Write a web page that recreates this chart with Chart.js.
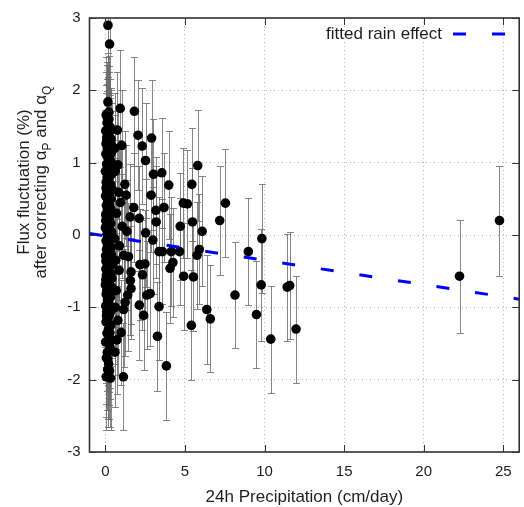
<!DOCTYPE html>
<html>
<head>
<meta charset="utf-8">
<script src="https://cdn.jsdelivr.net/npm/chart.js@4.4.1/dist/chart.umd.min.js"></script>
<style>
  html, body { margin: 0; padding: 0; background: #fff; }
  #wrap { width: 524px; height: 507px; }
</style>
</head>
<body>
<div id="wrap"><canvas id="rainChart" width="524" height="507"></canvas></div>
<script>
/* ---------------------------
   Data
--------------------------- */
const precipX = [
  // dense column at ~0 cm/day
  0.16, 0.26, 0.16, 0.05, 0.22, 0.10, 0.30, 0.02, 0.18, 0.35, 0.08, 0.25, 0.12, 0.40, 0.03, 0.20,
  0.32, 0.07, 0.15, 0.28, 0.00, 0.38, 0.11, 0.22, 0.05, 0.33, 0.17, 0.44, 0.09, 0.26, 0.01, 0.36,
  0.14, 0.21, 0.06, 0.30, 0.12, 0.42, 0.02, 0.19, 0.27, 0.08, 0.34, 0.15, 0.00, 0.24, 0.40, 0.10,
  0.18, 0.31, 0.04, 0.23, 0.13, 0.37, 0.07, 0.28, 0.16, 0.01, 0.33, 0.20, 0.09, 0.43, 0.25, 0.03,
  0.14, 0.35, 0.06, 0.22, 0.30, 0.11, 0.00, 0.39, 0.17, 0.26, 0.05, 0.32, 0.13, 0.21, 0.02, 0.41,
  0.08, 0.27, 0.15, 0.04, 0.34, 0.19, 0.10, 0.24, 0.01, 0.29, 0.12, 0.06, 0.20, 0.14, 0.05, 0.32,
  0.09, 0.27, 0.03, 0.18, 0.11, 0.23, 0.07, 0.29, 0.16, 0.02, 0.36, 0.13, 0.25, 0.04, 0.20, 0.31,
  0.21, 0.09, 0.30, 0.04, 0.35, 0.17, 0.40, 0.08, 0.28, 0.15, 0.36, 0.24, 0.02, 0.33, 0.12, 0.26,
  // 0.5 - 1.6 cm/day
  0.93, 0.78, 0.84, 1.03, 1.22, 1.30, 1.55, 0.86, 0.68, 1.61, 1.57, 1.61, 1.40, 1.24, 1.14, 0.78,
  0.99, 1.13, 0.62, 0.95, 0.70, 1.05, 0.58, 0.88, 1.15, 0.65, 1.35, 1.45, 0.75, 0.60, 0.62, 0.72,
  0.60,
  // 1.7 - 12 cm/day
  1.82, 2.05, 2.31, 2.90, 2.52, 3.02, 3.54, 3.98, 2.87, 3.17, 3.68, 1.78, 2.12, 3.19, 2.53, 2.98,
  3.37, 3.58, 4.14, 4.66, 4.24, 4.06, 2.17, 2.48, 2.33, 4.92, 5.53, 5.76, 5.90, 2.60, 2.81, 2.13,
  3.37, 2.40, 5.40, 3.27, 3.83, 4.90, 5.15, 5.43, 5.80, 5.47, 4.70, 6.08, 6.37, 6.59, 7.18, 7.54,
  8.14, 8.98, 9.83, 9.79, 9.49, 10.39, 11.42, 11.58, 11.98,
  // heavy rain days
  22.25, 24.76
];

const fluxY = [
  2.90, 2.64, 1.84, 1.66, 1.60, 1.55, 1.49, 1.44, 1.38, 1.33, 1.30, 1.24, 1.19, 1.15, 1.12, 1.06,
  1.02, 0.98, 0.95, 0.91, 0.88, 0.84, 0.80, 0.77, 0.73, 0.70, 0.66, 0.63, 0.60, 0.57, 0.54, 0.50,
  0.47, 0.44, 0.41, 0.38, 0.35, 0.31, 0.28, 0.25, 0.22, 0.19, 0.16, 0.13, 0.10, 0.07, 0.04, 0.01,
  -0.02, -0.05, -0.08, -0.11, -0.14, -0.17, -0.20, -0.23, -0.26, -0.29, -0.32, -0.35, -0.38, -0.41, -0.44, -0.47,
  -0.50, -0.53, -0.56, -0.59, -0.62, -0.66, -0.69, -0.72, -0.75, -0.79, -0.82, -0.86, -0.90, -0.94, -0.98, -1.02,
  -1.06, -1.10, -1.15, -1.20, -1.25, -1.30, -1.36, -1.42, -1.48, -1.55, -1.62, -1.70, -1.78, -1.86, -1.96, -1.98,
  0.52, 0.12, -0.36, 0.86, -0.58, 1.42, -1.12, 0.63, -0.84, 0.20, -0.27, 1.08, -1.50, 1.26, -0.05, 0.94,
  1.70, 1.35, 1.10, 0.65, 0.30, -0.12, -0.60, -0.78, -1.35, -1.72, 1.25, 0.40, -0.62, -1.05, 1.62, -1.88,
  1.75, 0.97, 0.59, 1.24, 0.70, 0.55, 0.25, -0.49, -0.77, -0.51, -0.63, -0.74, -0.83, -0.93, -1.03, -1.18,
  -1.35, -1.96, 0.88, 0.45, 0.30, 0.12, -0.05, -0.15, -0.28, -0.35, 0.05, -0.30, 1.45, 1.20, -1.00, -1.45,
  -1.62,
  1.71, 1.38, 1.23, 1.34, 1.03, 0.84, 0.86, 0.69, 0.55, 0.34, 0.38, 0.38, 0.23, 0.18, 0.03, -0.07,
  -0.23, -0.23, -0.23, -0.23, -0.38, -0.46, -0.41, -0.40, -0.55, -0.57, -0.58, -0.28, -0.20, -0.83, -0.81, -0.97,
  -0.99, -1.11, -1.25, -1.40, -1.81, 0.44, 0.43, 0.70, 0.96, 0.18, 0.12, 0.05, -1.03, -1.16, 0.20, 0.44,
  -0.83, -0.23, -0.05, -0.69, -1.10, -1.44, -0.72, -0.70, -1.30,
  -0.57, 0.20
];

const fluxErr = [
  0.72, 0.70, 0.68, 0.80, 0.74, 0.84, 0.66, 0.82, 0.78, 0.70, 0.86, 0.72, 0.80, 0.68, 0.84, 0.76,
  0.70, 0.82, 0.73, 0.79, 0.85, 0.66, 0.77, 0.81, 0.83, 0.71, 0.75, 0.69, 0.80, 0.78, 0.84, 0.72,
  0.80, 0.74, 0.83, 0.70, 0.79, 0.68, 0.85, 0.76, 0.72, 0.82, 0.70, 0.78, 0.84, 0.75, 0.67, 0.80,
  0.77, 0.71, 0.83, 0.74, 0.80, 0.69, 0.82, 0.73, 0.79, 0.85, 0.70, 0.76, 0.81, 0.67, 0.74, 0.84,
  0.80, 0.71, 0.82, 0.75, 0.72, 0.80, 0.86, 0.68, 0.78, 0.74, 0.82, 0.70, 0.80, 0.76, 0.85, 0.68,
  0.82, 0.73, 0.79, 0.84, 0.71, 0.77, 0.80, 0.75, 0.86, 0.72, 0.80, 0.82, 0.76, 0.79, 0.74, 0.72,
  0.78, 0.81, 0.76, 0.70, 0.74, 0.83, 0.79, 0.76, 0.84, 0.72, 0.80, 0.77, 0.85, 0.82, 0.70, 0.74,
  0.78, 0.74, 0.80, 0.76, 0.82, 0.78, 0.74, 0.80, 0.77, 0.82, 0.75, 0.79, 0.81, 0.76, 0.73, 0.78,
  0.81, 0.75, 0.72, 0.76, 0.74, 0.70, 0.73, 0.78, 0.80, 0.72, 0.75, 0.70, 0.77, 0.74, 0.79, 0.76,
  0.73, 0.74, 0.78, 0.74, 0.77, 0.72, 0.80, 0.75, 0.73, 0.79, 0.71, 0.74, 0.80, 0.77, 0.78, 0.75,
  0.76,
  0.75, 0.76, 0.80, 0.80, 0.80, 0.77, 0.76, 0.75, 0.78, 0.74, 0.75, 0.76, 0.73, 0.77, 0.75, 0.74,
  0.76, 0.73, 0.75, 0.74, 0.76, 0.75, 0.77, 0.74, 0.76, 0.74, 0.75, 0.74, 0.76, 0.75, 0.73, 0.76,
  0.74, 0.75, 0.76, 0.75, 0.75, 0.76, 0.75, 0.78, 0.77, 0.75, 0.74, 0.76, 0.75, 0.74, 0.75, 0.75,
  0.73, 0.74, 0.75, 0.77, 0.74, 0.74, 0.74, 0.74, 0.74,
  0.78, 0.76
];

// fitted rain effect (straight line, end points)
const fitX = [-1, 26];
const fitY = [0.02, -0.887];

const xTickValues = [0, 5, 10, 15, 20, 25];
const yTickValues = [-3, -2, -1, 0, 1, 2, 3];

const xTitle = "24h Precipitation (cm/day)";
const yTitle1 = "Flux fluctuation (%)";
const yTitle2 = [
  { t: "after correcting \u03b1" }, { t: "P", sub: true },
  { t: " and \u03b1" }, { t: "Q", sub: true }
];
const legendLabel = "fitted rain effect";

/* ---------------------------
   Styles
--------------------------- */
const FONT = '"Liberation Sans", Arial, sans-serif';
const TEXT = "#1e1e1e";
const FRAME = "#333333";
const FIT_COLOR = "#0000ff";
const FIT_DASH = [13, 26];

/* ---------------------------
   Plugins
--------------------------- */
// gnuplot-like error bars with caps, under the points
const errorBars = {
  id: "errorBars",
  beforeDatasetsDraw(chart) {
    const { ctx, chartArea: a, scales: { x, y } } = chart;
    ctx.save();
    ctx.beginPath();
    ctx.rect(a.left, a.top, a.right - a.left, a.bottom - a.top);
    ctx.clip();
    ctx.strokeStyle = "rgba(105,105,105,0.8)";
    ctx.lineWidth = 1;
    for (let i = 0; i < precipX.length; i++) {
      const px = Math.round(x.getPixelForValue(precipX[i])) + 0.5;
      const top = Math.round(y.getPixelForValue(fluxY[i] + fluxErr[i])) + 0.5;
      const bot = Math.round(y.getPixelForValue(fluxY[i] - fluxErr[i])) + 0.5;
      ctx.beginPath();
      ctx.moveTo(px, top); ctx.lineTo(px, bot);
      ctx.moveTo(px - 3.5, top); ctx.lineTo(px + 3.5, top);
      ctx.moveTo(px - 3.5, bot); ctx.lineTo(px + 3.5, bot);
      ctx.stroke();
    }
    ctx.restore();
  }
};

function drawRich(ctx, parts, cx, cy, size) {
  const subSize = Math.round(size * 0.72);
  let total = 0;
  const widths = parts.map(p => {
    ctx.font = `${p.sub ? subSize : size}px ${FONT}`;
    const w = ctx.measureText(p.t).width;
    total += w;
    return w;
  });
  let x = cx - total / 2;
  parts.forEach((p, i) => {
    ctx.font = `${p.sub ? subSize : size}px ${FONT}`;
    ctx.fillText(p.t, x, cy + (p.sub ? size * 0.28 : 0));
    x += widths[i];
  });
}

// frame, inner ticks, titles and key
const decorations = {
  id: "decorations",
  afterDraw(chart) {
    const { ctx, chartArea: a, scales: { x, y } } = chart;
    ctx.save();

    // inner tick marks on all four sides
    ctx.strokeStyle = FRAME;
    ctx.lineWidth = 1;
    ctx.beginPath();
    xTickValues.forEach(v => {
      const px = Math.round(x.getPixelForValue(v)) + 0.5;
      ctx.moveTo(px, a.bottom); ctx.lineTo(px, a.bottom - 7);
      ctx.moveTo(px, a.top); ctx.lineTo(px, a.top + 7);
    });
    yTickValues.forEach(v => {
      const py = Math.round(y.getPixelForValue(v)) + 0.5;
      ctx.moveTo(a.left, py); ctx.lineTo(a.left + 7, py);
      ctx.moveTo(a.right, py); ctx.lineTo(a.right - 7, py);
    });
    ctx.stroke();

    // frame
    ctx.lineWidth = 1.6;
    ctx.strokeRect(a.left, a.top, a.right - a.left, a.bottom - a.top);

    // x title
    ctx.fillStyle = TEXT;
    ctx.font = `17px ${FONT}`;
    ctx.textAlign = "center";
    ctx.textBaseline = "alphabetic";
    ctx.fillText(xTitle, (a.left + a.right) / 2, 502);

    // y title, two lines rotated
    ctx.save();
    ctx.rotate(-Math.PI / 2);
    ctx.textAlign = "center";
    ctx.font = `17px ${FONT}`;
    ctx.fillText(yTitle1, -182, 29);
    ctx.textAlign = "left";
    drawRich(ctx, yTitle2, -182, 46, 17);
    ctx.restore();

    // key
    const fit = chart.data.datasets[0];
    ctx.font = `17px ${FONT}`;
    ctx.textAlign = "right";
    ctx.textBaseline = "middle";
    ctx.fillText(legendLabel, 442, 34);
    ctx.strokeStyle = fit.borderColor;
    ctx.lineWidth = fit.borderWidth;
    ctx.setLineDash(fit.borderDash);
    ctx.beginPath();
    ctx.moveTo(453, 34);
    ctx.lineTo(505, 34);
    ctx.stroke();

    ctx.restore();
  }
};

/* ---------------------------
   Chart
--------------------------- */
const points = precipX.map((v, i) => ({ x: v, y: fluxY[i] }));
const fitLine = fitX.map((v, i) => ({ x: v, y: fitY[i] }));

new Chart(document.getElementById("rainChart").getContext("2d"), {
  type: "scatter",
  data: {
    datasets: [
      {
        type: "line",
        label: legendLabel,
        data: fitLine,
        borderColor: FIT_COLOR,
        borderWidth: 3,
        borderDash: FIT_DASH,
        pointRadius: 0,
        fill: false,
        clip: 0,
        order: 0
      },
      {
        label: "flux fluctuation",
        data: points,
        pointRadius: 4.8,
        pointBackgroundColor: "#000",
        pointBorderWidth: 0,
        order: 1
      }
    ]
  },
  options: {
    responsive: false,
    animation: false,
    events: [],
    layout: { padding: { top: 17, right: 1, left: 0, bottom: 0 } },
    plugins: {
      legend: { display: false },
      tooltip: { enabled: false }
    },
    scales: {
      x: {
        type: "linear",
        min: -1,
        max: 26,
        afterBuildTicks: s => { s.ticks = xTickValues.map(v => ({ value: v })); },
        afterFit: s => { s.height = 55; },
        grid: { color: "#b8b8b8", lineWidth: 1, drawTicks: false },
        border: { display: false, dash: [1, 3] },
        ticks: { padding: 11, color: TEXT, font: { family: FONT, size: 15 } }
      },
      y: {
        type: "linear",
        min: -3,
        max: 3,
        afterBuildTicks: s => { s.ticks = yTickValues.map(v => ({ value: v })); },
        afterFit: s => { s.width = 89.5; },
        grid: { color: "#b8b8b8", lineWidth: 1, drawTicks: false },
        border: { display: false, dash: [1, 3] },
        ticks: { padding: 9, color: TEXT, font: { family: FONT, size: 15 } }
      }
    }
  },
  plugins: [errorBars, decorations]
});
</script>
</body>
</html>
